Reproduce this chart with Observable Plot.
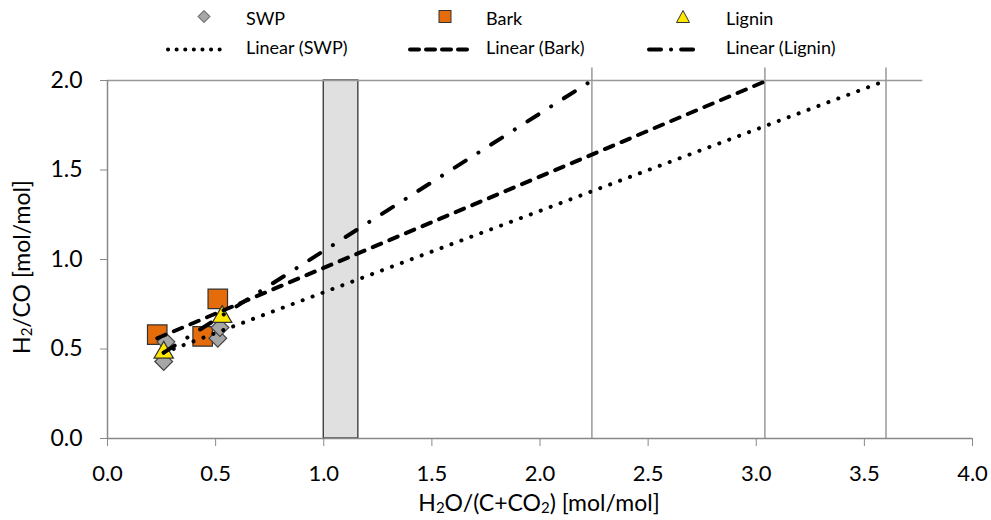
<!DOCTYPE html>
<html><head><meta charset="utf-8">
<script src="https://cdn.jsdelivr.net/npm/d3@7"></script>
<script src="https://cdn.jsdelivr.net/npm/@observablehq/plot@0.6"></script>
<style>
body{margin:0;background:#fff;font-family:Lato,"Open Sans",sans-serif;}
#legend{position:relative;width:991px;height:65px;}
.lt{position:absolute;font-size:18px;color:#000;line-height:1;transform:translateY(-50%);white-space:nowrap;}
.ls{position:absolute;transform:translateY(-50%);}
#chart svg{display:block;}
</style></head><body>
<div id="legend"></div>
<div id="chart"></div>
<script>
// ---- data ----
const swpX = [0.26, 0.27, 0.51, 0.52];
const swpY = [0.43, 0.54, 0.56, 0.62];
const barkX = [0.23, 0.44, 0.51];
const barkY = [0.58, 0.57, 0.78];
const ligX = [0.26, 0.53];
const ligY = [0.48, 0.68];
const trendNames = ["SWP", "Bark", "Lignin"];
const trendX0 = [0.26, 0.23, 0.26];
const trendY0 = [0.48, 0.56, 0.48];
const trendX1 = [3.60, 3.05, 2.24];
const trendY1 = [2.0, 2.0, 2.0];
const dropX = [2.24, 3.04, 3.60];
const dropTop = 2.07;
const topLineY = 2.0;
const topLineX = [0, 3.77];
const bandX = [1.0, 1.16];
const bandY = [0, 2.0];
const xTicks = [0, 0.5, 1, 1.5, 2, 2.5, 3, 3.5, 4];
const yTicks = [0, 0.5, 1, 1.5, 2];
const seriesNames = ["SWP", "Bark", "Lignin"];

// ---- styles ----
const FONT = "Lato, 'Open Sans', sans-serif";
const colors = {SWP: "#a6a6a6", Bark: "#e46c0a", Lignin: "#ffe800"};
const dashes = {SWP: "0.1 10.5", Bark: "9 9", Lignin: "13 15 0.1 15"};

const pts = (xs, ys, s) => xs.map((x, i) => ({x, y: ys[i], s}));
const swp = pts(swpX, swpY, "SWP");
const bark = pts(barkX, barkY, "Bark");
const lig = pts(ligX, ligY, "Lignin");
const trends = trendNames.map((n, i) => [
  {x: trendX0[i], y: trendY0[i], s: n},
  {x: trendX1[i], y: trendY1[i], s: n}
]);

const marks = [
  Plot.rect([{x1: bandX[0], x2: bandX[1], y1: bandY[0], y2: bandY[1]}],
    {x1: "x1", x2: "x2", y1: "y1", y2: "y2", fill: "#e0e0e0", stroke: "#333", strokeWidth: 1.3}),
  Plot.ruleY([{y: topLineY, x1: topLineX[0], x2: topLineX[1]}], {y: "y", x1: "x1", x2: "x2", stroke: "#999", strokeWidth: 1.5}),
  Plot.ruleX(dropX, {x: d => d, y1: 0, y2: dropTop, stroke: "#999", strokeWidth: 1.5}),
  Plot.ruleX([0], {y1: 0, y2: 2, stroke: "#888", strokeWidth: 1.5}),
  Plot.ruleY([0], {stroke: "#888", strokeWidth: 1.5}),
  Plot.axisX({ticks: xTicks, tickFormat: d3.format(".1f"), tickSize: 8, tickPadding: 19, stroke: "#888", fill: "#000", fontSize: 22, label: null}),
  Plot.axisY({ticks: yTicks, tickFormat: d3.format(".1f"), tickSize: 7, tickPadding: 18, stroke: "#888", fill: "#000", fontSize: 23, label: null}),
  Plot.dot(bark, {x: "x", y: "y", symbol: "square", r: 11, fill: colors.Bark, stroke: "#333", strokeWidth: 1.2}),
  Plot.dot(swp, {x: "x", y: "y", symbol: "diamond2", r: 8, fill: colors.SWP, stroke: "#444", strokeWidth: 1.2}),
  Plot.dot(lig, {x: "x", y: "y", symbol: "triangle", r: 7.2, fill: colors.Lignin, stroke: "#333", strokeWidth: 1.2}),
  ...trends.map((t, i) => Plot.line(t, {x: "x", y: "y", stroke: "#000", strokeWidth: 4, strokeLinecap: "round",
    strokeDasharray: dashes[trendNames[i]]}))
];

const chart = Plot.plot({
  width: 991, height: 455,
  marginLeft: 107, marginRight: 19, marginTop: 15, marginBottom: 82,
  x: {domain: [0, 4]},
  y: {domain: [0, 2]},
  style: {fontFamily: FONT, fontSize: "23px", background: "#fff", color: "#000"},
  marks
});
document.getElementById("chart").appendChild(chart);

// axis titles with subscripts
const svg = d3.select(chart);
function title(x, y, rot, parts) {
  const t = svg.append("text")
    .attr("transform", `translate(${x},${y})` + (rot ? ` rotate(${rot})` : ""))
    .attr("text-anchor", "middle").attr("dominant-baseline", "middle")
    .style("font-size", "23px").style("font-family", FONT).attr("fill", "#000");
  let shifted = false;
  parts.forEach(([s, sub]) => {
    const ts = t.append("tspan").text(s);
    if (sub) { ts.attr("dy", 4).style("font-size", "15px"); shifted = true; }
    else if (shifted) { ts.attr("dy", -4); shifted = false; }
  });
}
title(24, 202, -90, [["H"], ["2", true], ["/CO [mol/mol]"]]);
title(539, 440, 0, [["H"], ["2", true], ["O/(C+CO"], ["2", true], [") [mol/mol]"]]);

// legend (HTML above the SVG)
const legend = document.getElementById("legend");
const symX = [204, 445, 683];
const textX = [246, 486, 726];
const lineX0 = [166, 408, 647];
const lineX1 = [229, 475, 705];
const row1 = 18, row2 = 47;
function symbolSvg(name) {
  let shape = "";
  if (name === "SWP") shape = `<path d="M8 2 L14 8 L8 14 L2 8 Z" fill="${colors.SWP}" stroke="#444" stroke-width="1"/>`;
  if (name === "Bark") shape = `<rect x="2" y="2" width="12" height="12" fill="${colors.Bark}" stroke="#333" stroke-width="1"/>`;
  if (name === "Lignin") shape = `<path d="M8 2 L14.5 14 L1.5 14 Z" fill="${colors.Lignin}" stroke="#333" stroke-width="1"/>`;
  return `<svg width="16" height="16">${shape}</svg>`;
}
seriesNames.forEach((n, i) => {
  const s = document.createElement("div");
  s.className = "ls"; s.style.left = (symX[i] - 8) + "px"; s.style.top = row1 + "px";
  s.innerHTML = symbolSvg(n);
  legend.appendChild(s);
  const t = document.createElement("div");
  t.className = "lt"; t.style.left = textX[i] + "px"; t.style.top = row1 + "px";
  t.textContent = n;
  legend.appendChild(t);
  const l = document.createElement("div");
  l.className = "ls"; l.style.left = lineX0[i] + "px"; l.style.top = row2 + "px";
  const w = lineX1[i] - lineX0[i];
  const legDash = {SWP: "0.1 8.5", Bark: "9 7", Lignin: "12 10 0.1 10"}[n];
  l.innerHTML = `<svg width="${w}" height="8"><line x1="2" y1="4" x2="${w - 2}" y2="4" stroke="#000" stroke-width="4" stroke-linecap="round" stroke-dasharray="${legDash}"/></svg>`;
  legend.appendChild(l);
  const t2 = document.createElement("div");
  t2.className = "lt"; t2.style.left = textX[i] + "px"; t2.style.top = row2 + "px";
  t2.textContent = "Linear (" + n + ")";
  legend.appendChild(t2);
});
</script>
</body></html>
